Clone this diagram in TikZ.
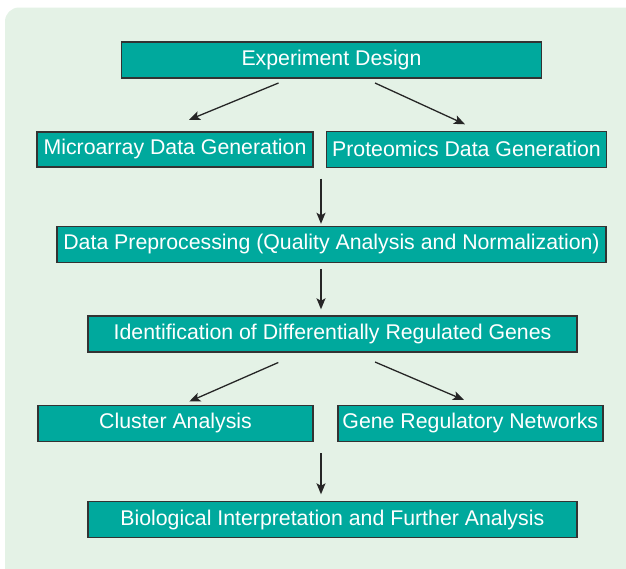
\documentclass[tikz,border=0pt]{standalone}
\usepackage{fontspec}
\setmainfont{Liberation Sans}
\usetikzlibrary{arrows.meta}
\definecolor{panelgreen}{HTML}{E4F2E6}
\definecolor{boxteal}{HTML}{00A99D}
\definecolor{boxedge}{HTML}{333333}
\tikzset{
  box/.style={draw=boxedge, line width=1.4pt, fill=boxteal, text=white,
    inner sep=0pt, outer sep=0pt, minimum height=36pt,
    font=\fontsize{21.3}{25}\selectfont},
  arr/.style={line width=1.3pt, draw=black!85,
    -{Stealth[length=11pt,width=9pt,inset=2.5pt]}}
}
\begin{document}
\begin{tikzpicture}[x=1pt, y=-1pt]
    \useasboundingbox (0,0) rectangle (626,568);
    \clip (0,0) rectangle (626,568);
    \fill[panelgreen, rounded corners=14pt] (5,7.5) rectangle (645,590);
    \node[box, minimum width=420pt] (design) at (331.5,60) {Experiment Design};
    \node[box, minimum width=276pt, minimum height=35pt] (micro) at (175,149.3) {Microarray Data Generation};
    \node[box, minimum width=280pt] (proteo) at (466.5,149.3) {Proteomics Data Generation};
    \node[box, minimum width=549pt] (prep) at (331.5,244.3) {Data Preprocessing (Quality Analysis and Normalization)};
    \node[box, minimum width=489pt] (ident) at (332.5,334) {Identification of Differentially Regulated Genes};
    \node[box, minimum width=275pt] (cluster) at (175.5,423.3) {Cluster Analysis};
    \node[box, minimum width=265pt] (grn) at (470.3,423.3) {Gene Regulatory Networks};
    \node[box, minimum width=489pt] (bio) at (332.3,519.7) {Biological Interpretation and Further Analysis};
    \draw[arr] ([xshift=-53pt,yshift=-5pt]design.south) -- ([xshift=14pt,yshift=12pt]micro.north);
    \draw[arr] ([xshift=43.5pt,yshift=-5pt]design.south) -- ([xshift=-1.5pt,yshift=7pt]proteo.north);
    \draw[arr] ([xshift=8pt,yshift=-11.7pt]micro.south east) -- ([xshift=-10.5pt,yshift=2.5pt]prep.north);
    \draw[arr] ([xshift=-10.5pt,yshift=-6.5pt]prep.south) -- ([xshift=-11.5pt,yshift=6.7pt]ident.north);
    \draw[arr] ([xshift=-54.2pt,yshift=-10.5pt]ident.south) -- ([xshift=13.8pt,yshift=3.8pt]cluster.north);
    \draw[arr] ([xshift=42.5pt,yshift=-10pt]ident.south) -- ([xshift=-6.3pt,yshift=5.3pt]grn.north);
    \draw[arr] ([xshift=8pt,yshift=-12pt]cluster.south east) -- ([xshift=-11.3pt,yshift=7.4pt]bio.north);
\end{tikzpicture}
\end{document}
